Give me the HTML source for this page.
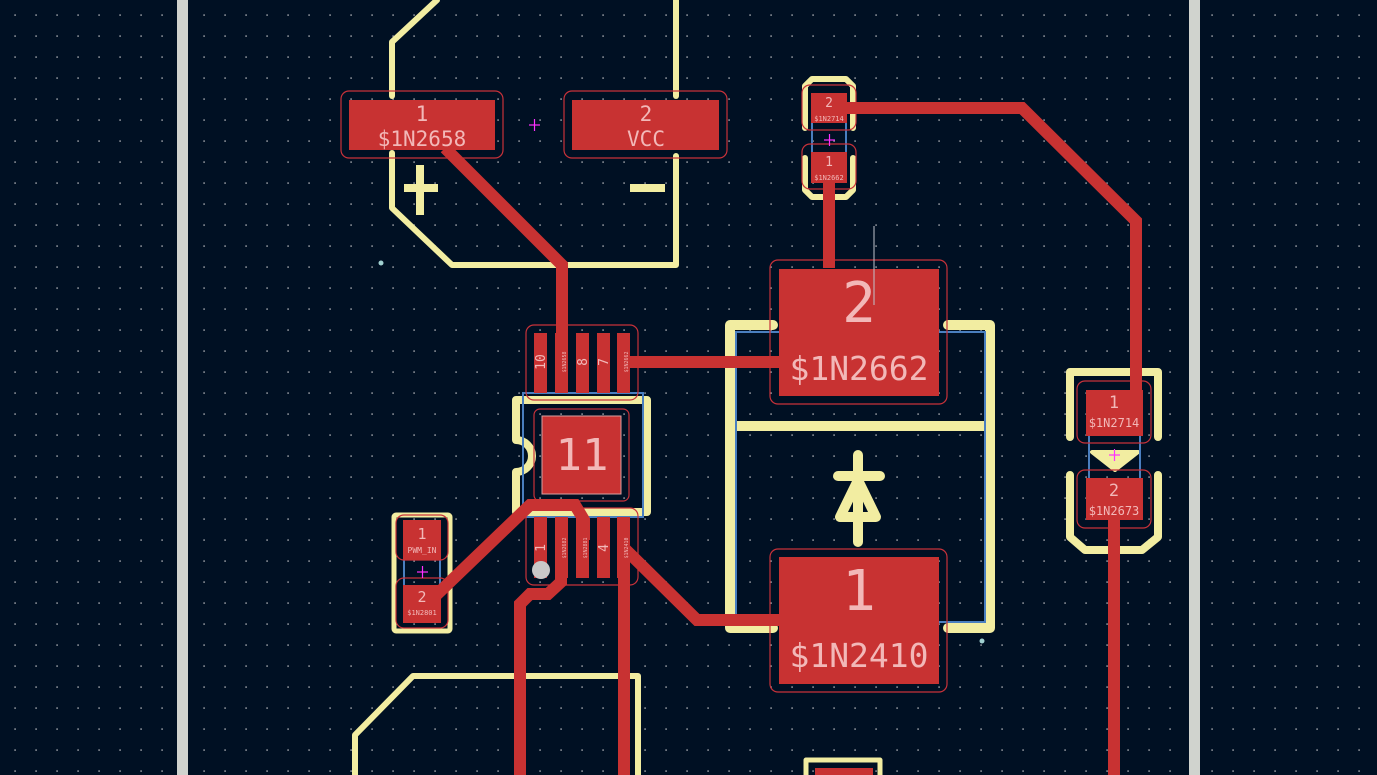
<!DOCTYPE html>
<html><head><meta charset="utf-8"><style>
html,body{margin:0;padding:0;background:#001023;}
svg{display:block}
text{font-family:"DejaVu Sans Mono","Liberation Mono",monospace;fill:#f2b8b8;text-anchor:middle}
</style></head><body>
<svg width="1377" height="775" viewBox="0 0 1377 775" xmlns="http://www.w3.org/2000/svg">
<defs>
<pattern id="g" x="14" y="14" width="21" height="21" patternUnits="userSpaceOnUse">
<rect x="0.3" y="0.3" width="1.6" height="1.6" fill="#8a8f96"/>
</pattern>
</defs>
<rect width="1377" height="775" fill="#001023"/>
<rect width="1377" height="775" fill="url(#g)"/>
<rect x="177" y="0" width="11" height="775" fill="#d0d3ce"/>
<rect x="1189" y="0" width="11" height="775" fill="#d0d3ce"/>

<g fill="none" stroke="#f2eda1" stroke-width="6" stroke-linecap="round" stroke-linejoin="round">
<polyline points="437,0 392,42 392,96"/>
<polyline points="392,153 392,208 452,265 676,265 676,156"/>
<line x1="676" y1="96" x2="676" y2="0"/>
<line x1="420" y1="165" x2="420" y2="215" stroke-width="8" stroke-linecap="butt"/>
<line x1="404" y1="188" x2="438" y2="188" stroke-width="8" stroke-linecap="butt"/>
<line x1="630" y1="188" x2="665" y2="188" stroke-width="8" stroke-linecap="butt"/>
<polyline points="773,325 730,325 730,628 773,628" stroke-width="10"/>
<polyline points="948,325 990,325 990,628 948,628" stroke-width="10"/>
<line x1="733" y1="426" x2="988" y2="426" stroke-width="10"/>
<line x1="858" y1="455" x2="858" y2="542" stroke-width="10"/>
<line x1="838" y1="476" x2="880" y2="476" stroke-width="10"/>
<polygon points="858,480 840,517 876,517" stroke-width="10"/>
<path d="M516,440 V400 H647 V512 H516 V472 A16,16 0 0 0 516,440" stroke-width="8"/>
<polyline points="355,775 355,735 413,676 638,676 638,775" stroke-width="6"/>
<polyline points="805,128 805,86 812,79 846,79 853,86 853,128"/>
<polyline points="805,158 805,190 812,197 846,197 853,190 853,158"/>
<polyline points="1070,437 1070,372 1158,372 1158,437" stroke-width="8"/>
<polyline points="1070,475 1070,537 1085,550 1142,550 1158,537 1158,475" stroke-width="8"/>
<polygon points="1092,452 1138,452 1115,470" fill="#f2eda1" stroke-width="4"/>
<rect x="394" y="515" width="56" height="116" rx="2" stroke-width="5"/>
<rect x="806" y="760" width="74" height="30" stroke-width="5"/>
</g>
<g fill="none" stroke="#4a7fc0" stroke-width="2">
<rect x="736" y="332" width="249" height="290"/>
<rect x="523" y="393" width="120" height="124"/>
<line x1="812" y1="122" x2="812" y2="152"/><line x1="846" y1="122" x2="846" y2="152"/>
<line x1="1089" y1="436" x2="1089" y2="478"/><line x1="1140" y1="436" x2="1140" y2="478"/>
<line x1="404" y1="560" x2="404" y2="585"/><line x1="440" y1="560" x2="440" y2="585"/>
</g>
<g fill="none" stroke="#c8323a" stroke-width="1.2">
<rect x="341" y="91" width="162" height="67" rx="8"/>
<rect x="564" y="91" width="163" height="67" rx="8"/>
<rect x="770" y="260" width="177" height="144" rx="8"/>
<rect x="770" y="549" width="177" height="143" rx="8"/>
<rect x="526" y="325" width="112" height="75" rx="8"/>
<rect x="526" y="508" width="112" height="77" rx="8"/>
<rect x="534" y="409" width="95" height="92" rx="6"/>
<rect x="802" y="85" width="54" height="45" rx="8"/>
<rect x="802" y="144" width="54" height="45" rx="8"/>
<rect x="1077" y="381" width="74" height="62" rx="8"/>
<rect x="1077" y="470" width="74" height="58" rx="8"/>
<rect x="396" y="515" width="52" height="45" rx="8"/>
<rect x="396" y="578" width="52" height="50" rx="8"/>
</g>
<g fill="none" stroke="#c83232" stroke-width="12" stroke-linejoin="miter">
<polyline points="445,148 562,265 562,335"/>
<polyline points="620,362 782,362"/>
<polyline points="829,268 829,178"/>
<polyline points="845,108 1022,108 1136,221 1136,392"/>
<polyline points="1114,518 1114,775"/>
<polyline points="428,603 530,505 575,505 584,520 584,540"/>
<polyline points="561,560 561,582 548,594 530,594 520,604 520,775"/>
<polyline points="624,520 624,775"/>
<polyline points="624,548 697,620 782,620"/>
</g>
<g fill="#c83232">
<rect x="349" y="100" width="146" height="50"/>
<rect x="572" y="100" width="147" height="50"/>
<rect x="779" y="269" width="160" height="127"/>
<rect x="779" y="557" width="160" height="127"/>
<rect x="534" y="333" width="13" height="60"/><rect x="555" y="333" width="13" height="60"/>
<rect x="576" y="333" width="13" height="60"/><rect x="597" y="333" width="13" height="60"/>
<rect x="617" y="333" width="13" height="60"/>
<rect x="534" y="517" width="13" height="61"/><rect x="555" y="517" width="13" height="61"/>
<rect x="576" y="517" width="13" height="61"/><rect x="597" y="517" width="13" height="61"/>
<rect x="617" y="517" width="13" height="61"/>
<rect x="542" y="416" width="79" height="78" stroke="#d8a0a0" stroke-width="1"/>
<rect x="811" y="93" width="36" height="30"/>
<rect x="811" y="152" width="36" height="31"/>
<rect x="1086" y="390" width="57" height="46"/>
<rect x="1086" y="478" width="57" height="42"/>
<rect x="403" y="520" width="38" height="40"/>
<rect x="403" y="585" width="38" height="38"/>
<rect x="815" y="768" width="58" height="10"/>
</g>
<circle cx="541" cy="570" r="9" fill="#c8c8c8"/>
<circle cx="381" cy="263" r="2.5" fill="#a0d0d0"/>
<circle cx="982" cy="641" r="2.5" fill="#a0d0d0"/>
<g stroke="#ff30ff" stroke-width="1.2">
<line x1="529" y1="125" x2="540" y2="125"/><line x1="534.5" y1="119" x2="534.5" y2="131"/>
<line x1="417" y1="572" x2="428" y2="572"/><line x1="422.5" y1="566" x2="422.5" y2="578"/>
<line x1="1109" y1="455" x2="1120" y2="455"/><line x1="1114.5" y1="449" x2="1114.5" y2="461"/>
<line x1="824" y1="140" x2="835" y2="140"/><line x1="829.5" y1="134" x2="829.5" y2="146"/>
</g>
<line x1="874" y1="226" x2="874" y2="305" stroke="#c0c4cc" stroke-width="1"/>
<text x="422" y="121" font-size="21">1</text>
<text x="422" y="146" font-size="21">$1N2658</text>
<text x="646" y="121" font-size="21">2</text>
<text x="646" y="146" font-size="21">VCC</text>
<text x="859" y="322" font-size="56">2</text>
<text x="859" y="380" font-size="33">$1N2662</text>
<text x="859" y="610" font-size="56">1</text>
<text x="859" y="667" font-size="33">$1N2410</text>
<text x="582" y="470" font-size="44">11</text>
<text x="829" y="107" font-size="13">2</text>
<text x="829" y="121" font-size="7">$1N2714</text>
<text x="829" y="166" font-size="13">1</text>
<text x="829" y="180" font-size="7">$1N2662</text>
<text x="1114" y="408" font-size="17">1</text>
<text x="1114" y="427" font-size="12">$1N2714</text>
<text x="1114" y="496" font-size="17">2</text>
<text x="1114" y="515" font-size="12">$1N2673</text>
<text x="422" y="539" font-size="15">1</text>
<text x="422" y="553" font-size="8">PWM_IN</text>
<text x="422" y="602" font-size="15">2</text>
<text x="422" y="615" font-size="7">$1N2801</text>
<g font-size="13">
<text transform="translate(545,362) rotate(-90)">10</text>
<text transform="translate(587,362) rotate(-90)">8</text>
<text transform="translate(608,362) rotate(-90)">7</text>
<text transform="translate(545,548) rotate(-90)">1</text>
<text transform="translate(608,548) rotate(-90)">4</text>
</g>
<g font-size="5">
<text transform="translate(566,362) rotate(-90)">$1N2658</text>
<text transform="translate(628,362) rotate(-90)">$1N2662</text>
<text transform="translate(566,548) rotate(-90)">$1N2682</text>
<text transform="translate(587,548) rotate(-90)">$1N2881</text>
<text transform="translate(628,548) rotate(-90)">$1N2410</text>
</g>
</svg>
</body></html>
